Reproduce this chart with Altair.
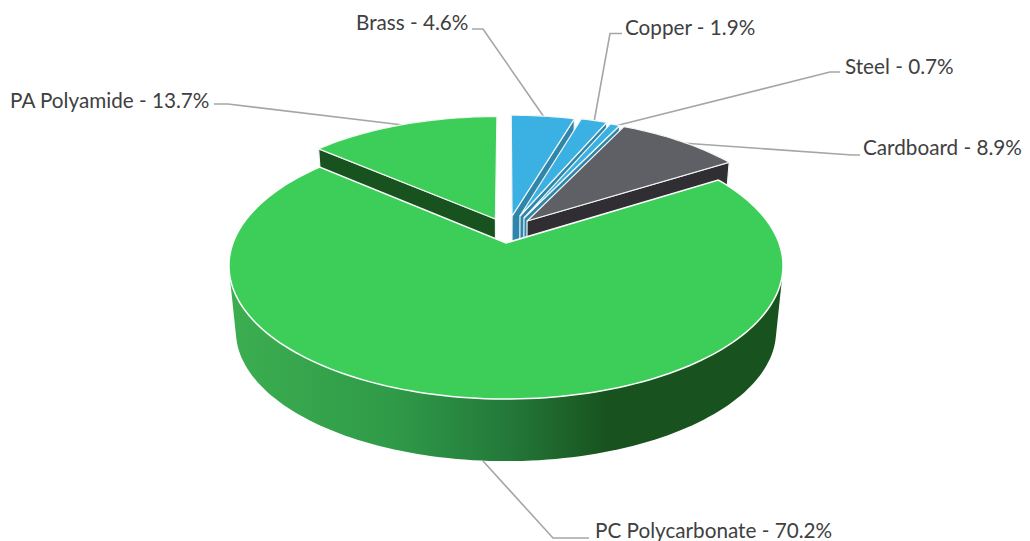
import math
import altair as alt

# --- chart values (clockwise from the top of the pie) ---
materials = ["Brass", "Copper", "Steel", "Cardboard", "PC Polycarbonate", "PA Polyamide"]
shares = [4.6, 1.9, 0.7, 8.9, 70.2, 13.7]
top_colors = ["#3bb0e3", "#3bb0e3", "#3bb0e3", "#5f6065", "#3dce5a", "#3dce5a"]
wall_colors = ["#2e86ad", "#2e86ad", "#2e86ad", "#302e33", "#18531f", "#18531f"]
# how far each slice is pulled out of the pie (plane units)
pull_u = [0.023, 0.053, 0.068, 0.0795, 0.0, -0.04]
pull_v = [0.216, 0.216, 0.200, 0.175, 0.0, 0.191]
radius = [0.97, 0.97, 0.97, 0.985, 1.0, 0.98]
label_x = [356, 625, 845, 863, 595, 10]
label_y = [23.5, 28.5, 67.5, 148.5, 532, 101.5]
leaders = [
    [(472, 29), (483, 29), (544, 117)],
    [(622, 33.5), (610, 33.5), (594, 122)],
    [(840, 72), (830, 72), (615, 126)],
    [(860, 155), (852, 155), (682, 143)],
    [(589, 538), (553, 538), (483, 461)],
    [(214, 104), (228, 104), (403, 125)],
]

# --- perspective view of the disc ---
CX, CY, A, B, K, H, S = 506, 243, 273, 129.5, 0.17, 66, 0.975


def project(u, v, low=False):
    d = 1 + K * v
    if low:
        return [CX + S * A * u / d, CY + H - S * B * v / d]
    return [CX + A * u / d, CY - B * v / d]


def arc(i, a0, a1, low=False):
    n = max(2, int(abs(a1 - a0) / 1.5) + 1)
    pts = []
    for j in range(n + 1):
        t = math.radians(a0 + (a1 - a0) * j / n)
        pts.append(project(pull_u[i] + radius[i] * math.sin(t),
                           pull_v[i] + radius[i] * math.cos(t), low))
    return pts


def feature(coords, fill):
    return {"type": "Feature", "properties": {"fill": fill},
            "geometry": {"type": "Polygon", "coordinates": [coords + [coords[0]]]}}


def hull(points):
    pts = sorted(set(map(tuple, points)))

    def half(seq):
        out = []
        for p in seq:
            while len(out) > 1 and ((out[-1][0] - out[-2][0]) * (p[1] - out[-2][1])
                                    - (out[-1][1] - out[-2][1]) * (p[0] - out[-2][0])) <= 0:
                out.pop()
            out.append(p)
        return out[:-1]

    return [list(p) for p in half(pts) + half(pts[::-1])]


total = sum(shares)
edges = [0.0]
for s in shares:
    edges.append(edges[-1] + 360 * s / total)

MAIN = materials.index("PC Polycarbonate")


def top_face(i):
    apex = project(pull_u[i], pull_v[i])
    return feature([apex] + arc(i, edges[i], edges[i + 1]), top_colors[i])


def cut_wall(i, angle):
    t = math.radians(angle)
    ou, ov = pull_u[i] + radius[i] * math.sin(t), pull_v[i] + radius[i] * math.cos(t)
    return feature([project(pull_u[i], pull_v[i]), project(ou, ov),
                    project(ou, ov, True), project(pull_u[i], pull_v[i], True)],
                   wall_colors[i])


slices = []
# PA sits behind on the left: its left-hand cut is what shows
slices += [cut_wall(5, edges[5]), top_face(5)]
for i in range(4):
    # right-hand cut of each right-side slice
    slices.append(cut_wall(i, edges[i + 1]))
    slices.append(top_face(i))

# outer wall: hull of the front half of the upper and lower rims
body = hull(arc(MAIN, 95, 265) + arc(MAIN, 95, 265, True))

wall_gradient = alt.Gradient(
    gradient="linear", x1=0, x2=1, y1=0, y2=0,
    stops=[alt.GradientStop(offset=0.0, color="#3cae50"),
           alt.GradientStop(offset=0.3, color="#2f9a48"),
           alt.GradientStop(offset=0.5, color="#24793a"),
           alt.GradientStop(offset=0.68, color="#18531f"),
           alt.GradientStop(offset=1.0, color="#18531f")],
)

proj = dict(type="identity", scale=1, translate=[-8, -8])

leader_layer = alt.Chart(alt.Data(values=[
    {"type": "Feature", "properties": {},
     "geometry": {"type": "LineString", "coordinates": [list(p) for p in line]}}
    for line in leaders])).mark_geoshape(
    filled=False, stroke="#a6a6a6", strokeWidth=1.6).project(**proj)

wall_layer = alt.Chart(alt.Data(values=[feature(body, "#18531f")])).mark_geoshape(
    fill=wall_gradient, strokeWidth=0).project(**proj)

slice_layer = alt.Chart(alt.Data(values=slices)).mark_geoshape(
    stroke="#f2f6f2", strokeWidth=1.2
).encode(color=alt.Color("properties.fill:N", scale=None, legend=None)).project(**proj)

main_layer = alt.Chart(alt.Data(values=[top_face(MAIN)])).mark_geoshape(
    stroke="white", strokeWidth=1.5
).encode(color=alt.Color("properties.fill:N", scale=None, legend=None)).project(**proj)

labels = [{"label": f"{m} - {s}%", "x": x, "y": y}
          for m, s, x, y in zip(materials, shares, label_x, label_y)]
text_layer = alt.Chart(alt.Data(values=labels)).mark_text(
    align="left", baseline="middle", font="Lato", fontSize=20.7, color="#404040"
).encode(longitude="x:Q", latitude="y:Q", text="label:N").project(**proj)

chart = alt.layer(leader_layer, wall_layer, slice_layer, main_layer, text_layer).properties(
    width=1014, height=533, padding=0, autosize=alt.AutoSizeParams(type="none"),
    background="white",
).configure_view(stroke=None)

chart.save("out.html", embed_options={"renderer": "svg", "actions": False})
